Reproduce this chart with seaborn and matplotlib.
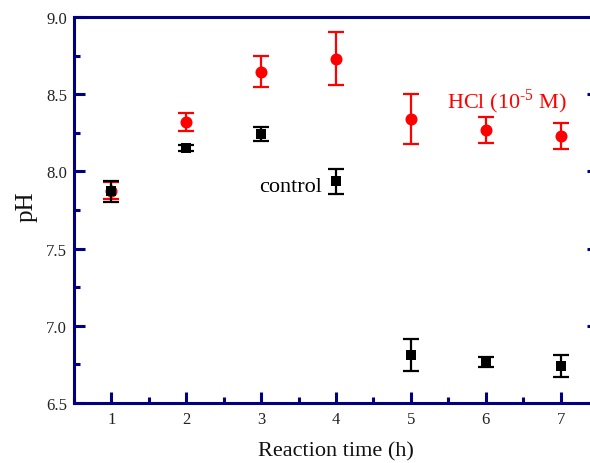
import matplotlib
matplotlib.use("Agg")
import matplotlib.pyplot as plt
import seaborn as sns
import pandas as pd
from matplotlib.ticker import MultipleLocator, FormatStrFormatter

time_h = [1, 2, 3, 4, 5, 6, 7]
control_ph = [7.87, 8.15, 8.245, 7.935, 6.81, 6.765, 6.74]
control_err = [0.07, 0.02, 0.045, 0.08, 0.105, 0.035, 0.07]
hcl_ph = [7.875, 8.32, 8.645, 8.73, 8.34, 8.27, 8.23]
hcl_err = [0.055, 0.06, 0.10, 0.17, 0.16, 0.085, 0.085]

df_c = pd.DataFrame({"t": time_h, "pH": control_ph, "err": control_err})
df_h = pd.DataFrame({"t": time_h, "pH": hcl_ph, "err": hcl_err})

sns.set_style("white")
plt.rcParams["font.family"] = ["Liberation Serif", "DejaVu Serif"]
plt.rcParams["mathtext.fontset"] = "custom"
plt.rcParams["mathtext.rm"] = "Liberation Serif"

fig = plt.figure(figsize=(5.9, 4.64), dpi=100)
ax = fig.add_axes([74 / 590, 60 / 464, 524 / 590, 386 / 464])

navy = "#000080"
red = "#ff0000"

ax.errorbar(df_h["t"], df_h["pH"], yerr=df_h["err"], fmt="none",
            ecolor=red, elinewidth=1.6, capsize=6, capthick=1.6, zorder=2)
sns.scatterplot(data=df_h, x="t", y="pH", ax=ax, marker="o", s=75,
                color=red, edgecolor=red, linewidth=0, zorder=3)
ax.errorbar(df_c["t"], df_c["pH"], yerr=df_c["err"], fmt="none",
            ecolor="black", elinewidth=1.6, capsize=6, capthick=1.6, zorder=4)
sns.scatterplot(data=df_c, x="t", y="pH", ax=ax, marker="s", s=55,
                color="black", edgecolor="black", linewidth=0, zorder=5)

ax.set_xlim(0.5, 7.5)
ax.set_ylim(6.5, 9.0)
ax.xaxis.set_major_locator(MultipleLocator(1))
ax.xaxis.set_minor_locator(MultipleLocator(0.5))
ax.yaxis.set_major_locator(MultipleLocator(0.5))
ax.yaxis.set_minor_locator(MultipleLocator(0.25))
ax.yaxis.set_major_formatter(FormatStrFormatter("%.1f"))

for s in ["left", "bottom", "top", "right"]:
    ax.spines[s].set_color(navy)
    ax.spines[s].set_linewidth(2.2)

ax.tick_params(axis="both", which="both", bottom=True, left=True, top=False, right=True)
ax.tick_params(axis="both", which="major", direction="in", length=8, width=2.2,
               color=navy, labelsize=12, labelcolor="#222222")
ax.tick_params(axis="both", which="minor", direction="in", length=4, width=2.2,
               color=navy)
ax.tick_params(axis="x", which="major", pad=6)
ax.tick_params(axis="y", which="major", pad=5)

ax.set_xlabel("Reaction time (h)", fontsize=16, color="#111111", labelpad=10)
ax.set_ylabel("pH", fontsize=18, color="#111111")
ax.yaxis.set_label_coords(-36 / 524, 0.51)

ax.text(3.81, 7.905, "control", fontsize=16, color="black", ha="right", va="center")
ax.text(6.29, 8.456, r"HCl (10$^{\text{-}5}$ M)", fontsize=16, color=red,
        ha="center", va="center")

fig.savefig("out.png", dpi=100)
